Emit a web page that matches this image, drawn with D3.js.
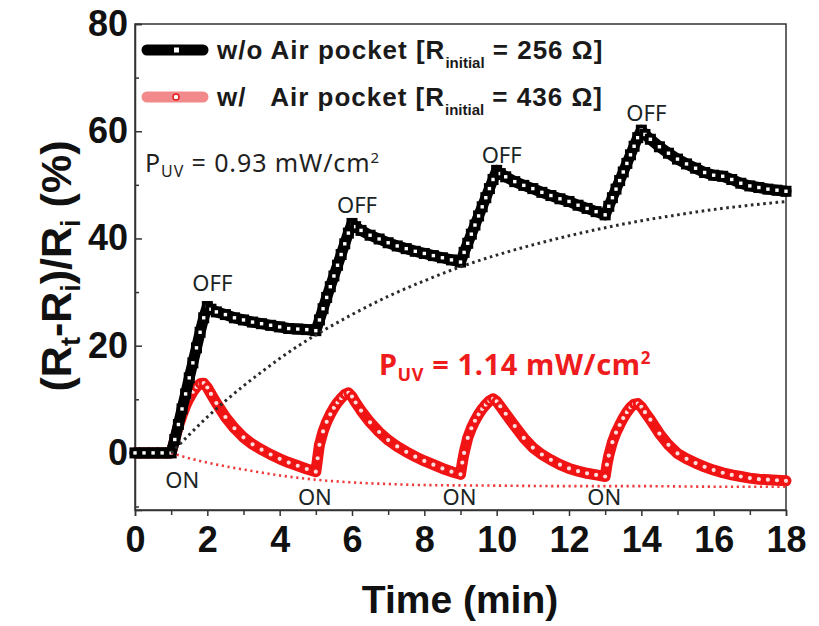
<!DOCTYPE html>
<html><head><meta charset="utf-8">
<script src="https://cdn.jsdelivr.net/npm/d3@7"></script>
<style>body{margin:0;background:#fff}svg{display:block}</style>
</head><body><svg id="c" width="819" height="626"></svg>
<script>
// ---- data ----
const timeBlack = [0,0.25,0.5,0.75,1,1.1,1.2,1.3,1.4,1.5,1.6,1.7,1.8,1.9,2.0,
 2.1,2.25,2.5,2.75,3,3.25,3.5,3.75,4,4.25,4.5,4.75,5,
 5.1,5.2,5.3,5.4,5.5,5.6,5.7,5.8,5.9,6.0,
 6.1,6.25,6.5,6.75,7,7.25,7.5,7.75,8,8.25,8.5,8.75,9,
 9.1,9.2,9.3,9.4,9.5,9.6,9.7,9.8,9.9,10,
 10.1,10.25,10.5,10.75,11,11.25,11.5,11.75,12,12.25,12.5,12.75,13,
 13.1,13.2,13.3,13.4,13.5,13.6,13.7,13.8,13.9,14,
 14.1,14.25,14.5,14.75,15,15.25,15.5,15.75,16,16.25,16.5,16.75,17,17.25,17.5,17.75,18];
const valueBlack = [0,0,0,0,0,2.5,5.3,8.2,11,14,16.8,19.6,22.5,25.2,27.3,
 26.8,26.3,25.8,25.2,24.8,24.4,24.1,23.8,23.5,23.2,23.1,23.0,22.8,
 24.8,26.9,29,31,33,35,37,39,41,42.8,
 42.2,41.5,40.6,39.9,39.2,38.6,38.1,37.6,37.2,36.8,36.4,36.0,35.6,
 37.4,39.1,40.8,42.5,44.2,45.9,47.6,49.3,51.0,52.7,
 52.1,51.5,50.6,49.9,49.3,48.6,48.0,47.4,46.9,46.2,45.6,45.0,44.4,
 46.0,47.6,49.2,50.8,52.4,54.0,55.6,57.2,58.8,60.2,
 59.4,58.5,57.1,55.9,54.8,53.9,53.1,52.3,51.8,51.6,51.0,50.3,49.8,49.5,49.2,49.0,48.8];

const timeRed = [0,0.25,0.5,0.75,1,1.1,1.2,1.3,1.4,1.5,1.6,1.7,1.8,1.9,
 2,2.1,2.25,2.5,2.75,3,3.25,3.5,3.75,4,4.25,4.5,4.75,5,
 5.05,5.1,5.2,5.3,5.4,5.5,5.6,5.7,5.8,5.9,
 6,6.1,6.25,6.5,6.75,7,7.25,7.5,7.75,8,8.25,8.5,8.75,9,
 9.05,9.1,9.2,9.3,9.4,9.5,9.6,9.7,9.8,9.9,
 10,10.1,10.25,10.5,10.75,11,11.25,11.5,11.75,12,12.25,12.5,12.75,13,
 13.05,13.1,13.2,13.3,13.4,13.5,13.6,13.7,13.8,13.9,
 14,14.1,14.25,14.5,14.75,15,15.25,15.5,15.75,16,16.25,16.5,16.75,17,17.25,17.5,17.75,18];
const valueRed = [0,0,0,0,0,2.5,5,7,8.8,10.2,11.4,12.3,12.9,13.0,
 12.2,11.0,9.3,6.7,4.6,2.9,1.6,0.6,-0.3,-1.1,-1.8,-2.4,-3.0,-3.5,
 -1,1.5,4.0,5.8,7.2,8.4,9.4,10.2,10.9,11.2,
 10.5,9.4,7.9,5.7,3.9,2.4,1.2,0.2,-0.7,-1.5,-2.2,-2.9,-3.5,-4.0,
 -1.8,0,2.8,4.6,6.0,7.2,8.2,9.0,9.7,10.1,
 9.6,8.7,7.3,5.0,2.8,1.0,-0.3,-1.3,-2.2,-2.9,-3.4,-3.8,-4.1,-4.4,
 -2.2,-0.5,2.0,3.8,5.2,6.5,7.6,8.5,9.1,9.2,
 8.6,7.6,6.2,3.6,1.5,-0.1,-1.1,-1.9,-2.6,-3.2,-3.7,-4.1,-4.4,-4.7,-4.9,-5.0,-5.1,-5.2];

const timeFitBlack = [1,1.5,2,2.5,3,3.5,4,4.5,5,6,7,8,9,10,11,12,13,14,15,16,17,18];
const valueFitBlack = [0,3.4,6.7,9.7,12.5,15.1,17.6,19.9,22.0,25.8,29.2,32.1,34.7,36.9,38.8,40.5,42.0,43.3,44.4,45.4,46.2,46.9];
const timeFitRed = [1,1.5,2,2.5,3,4,5,6,7,8,10,12,14,16,18];
const valueFitRed = [0,-1.0,-1.8,-2.5,-3.1,-4.2,-5.0,-5.5,-5.8,-6.0,-6.1,-6.2,-6.2,-6.3,-6.3];

const xTicks = [0,2,4,6,8,10,12,14,16,18];
const yTicks = [0,20,40,60,80];
const onTimes = [1,5,9,13];
const offTimes = [2,6,10,14];
const legendNames = ["w/o Air pocket [R", "w/   Air pocket [R"];
const legendValues = ["= 256 \u03A9]", "= 436 \u03A9]"];

// ---- drawing ----
const svg = d3.select("#c");
const L = 135, R = 786, T = 24, B = 510;
const x = d3.scaleLinear().domain([0,18]).range([L,R]);
const y = d3.scaleLinear().domain([-10.65,80]).range([B,T]);
const FONT = "Arial, 'Liberation Sans', sans-serif";

// frame
svg.append("rect").attr("x",L).attr("y",T).attr("width",R-L).attr("height",B-T)
  .attr("fill","none").attr("stroke","#333").attr("stroke-width",1.5);

// x axis
const xAxis = d3.axisBottom(x).tickValues(xTicks).tickSize(6).tickPadding(4).tickFormat(d3.format("d"));
const gx = svg.append("g").attr("transform",`translate(0,${B})`).call(xAxis);
gx.select(".domain").attr("stroke","#333").attr("stroke-width",1.5);
gx.selectAll(".tick line").attr("stroke","#333").attr("stroke-width",1.5);
gx.selectAll(".tick text").attr("font-family",FONT).attr("font-weight","bold")
  .attr("font-size",36).attr("fill","#111").attr("dy","0.9em");
const gxm = svg.append("g").attr("transform",`translate(0,${B})`)
  .call(d3.axisBottom(x).tickValues(d3.range(1,18,2)).tickSize(5).tickFormat(""));
gxm.select(".domain").remove();
gxm.selectAll(".tick line").attr("stroke","#333").attr("stroke-width",1.5);

// y axis (ticks inward)
const yAxis = d3.axisLeft(y).tickValues(yTicks).tickSize(-7).tickPadding(14).tickFormat(d3.format("d"));
const gy = svg.append("g").attr("transform",`translate(${L},0)`).call(yAxis);
gy.select(".domain").attr("stroke","#333").attr("stroke-width",1.5);
gy.selectAll(".tick line").attr("stroke","#333").attr("stroke-width",1.5);
gy.selectAll(".tick text").attr("font-family",FONT).attr("font-weight","bold")
  .attr("font-size",36).attr("fill","#111").attr("x",-7);
const gym = svg.append("g").attr("transform",`translate(${L},0)`)
  .call(d3.axisLeft(y).tickValues([-10,10,30,50,70]).tickSize(-4).tickFormat(""));
gym.select(".domain").remove();
gym.selectAll(".tick line").attr("stroke","#333").attr("stroke-width",1.5);

// axis titles
svg.append("text").attr("x",460).attr("y",613).attr("text-anchor","middle")
  .attr("font-family",FONT).attr("font-weight","bold").attr("font-size",39).attr("fill","#111")
  .text("Time (min)");
const yt = svg.append("text").attr("transform","translate(71,266) rotate(-90)").attr("text-anchor","middle")
  .attr("font-family",FONT).attr("font-weight","bold").attr("font-size",43).attr("fill","#111");
yt.append("tspan").text("(R");
yt.append("tspan").attr("font-size",27).attr("dy",9).text("t");
yt.append("tspan").attr("dy",-9).text("-R");
yt.append("tspan").attr("font-size",27).attr("dy",9).text("i");
yt.append("tspan").attr("dy",-9).text(")/R");
yt.append("tspan").attr("font-size",27).attr("dy",9).text("i");
yt.append("tspan").attr("dy",-9).text(" (%)");

// series helpers
const blackPts = timeBlack.map((t,i)=>[t,valueBlack[i]]);
const redPts = timeRed.map((t,i)=>[t,valueRed[i]]);
const fitB = timeFitBlack.map((t,i)=>[t,valueFitBlack[i]]);
const fitR = timeFitRed.map((t,i)=>[t,valueFitRed[i]]);
const line = d3.line().x(d=>x(d[0])).y(d=>y(d[1]));
const curve = d3.line().x(d=>x(d[0])).y(d=>y(d[1])).curve(d3.curveMonotoneX);

// red series
svg.append("path").attr("d",line(redPts)).attr("fill","none").attr("stroke","#f01414")
  .attr("stroke-width",11).attr("stroke-linejoin","round").attr("stroke-linecap","round");
svg.append("g").selectAll("circle").data(redPts).join("circle")
  .attr("cx",d=>x(d[0])).attr("cy",d=>y(d[1])).attr("r",3.6)
  .attr("fill","#ffdede").attr("stroke","#f01414").attr("stroke-width",3);

// black series
svg.append("path").attr("d",line(blackPts)).attr("fill","none").attr("stroke","#000")
  .attr("stroke-width",11).attr("stroke-linejoin","round").attr("stroke-linecap","round");
svg.append("g").selectAll("rect").data(blackPts).join("rect")
  .attr("x",d=>x(d[0])-3.6).attr("y",d=>y(d[1])-3.6).attr("width",7.2).attr("height",7.2)
  .attr("fill","#fff").attr("stroke","#000").attr("stroke-width",3.8);

// dotted trend lines
svg.append("path").attr("d",curve(fitR)).attr("fill","none").attr("stroke","#ee3b3b")
  .attr("stroke-width",2.6).attr("stroke-dasharray","2.2,3.6");
svg.append("path").attr("d",curve(fitB)).attr("fill","none").attr("stroke","#2a2a2a")
  .attr("stroke-width",3).attr("stroke-dasharray","2.6,3.6");

// ON / OFF labels
const LBL = "'Noto Sans', 'Open Sans', sans-serif";
const onY = [480,497,497,497];
svg.append("g").selectAll("text").data(onTimes).join("text")
  .attr("x",(d,i)=>x(d)+ (i===0?11:-1)).attr("y",(d,i)=>onY[i]+8).attr("text-anchor","middle")
  .attr("font-family",LBL).attr("font-size",22).attr("fill","#1a2424").text("ON");
const offY = [283,205,155,113];
svg.append("g").selectAll("text").data(offTimes).join("text")
  .attr("x",(d,i)=>x(d)+5).attr("y",(d,i)=>offY[i]+8).attr("text-anchor","middle")
  .attr("font-family",LBL).attr("font-size",22).attr("fill","#1a2424").text("OFF");

// P_UV annotations
const p1 = svg.append("text").attr("x",145).attr("y",172).attr("font-family",LBL)
  .attr("font-size",25).attr("letter-spacing",0.9).attr("fill","#1f1f1f");
p1.append("tspan").text("P");
p1.append("tspan").attr("font-size",16).attr("dy",5).text("UV");
p1.append("tspan").attr("dy",-5).text(" = 0.93 mW/cm");
p1.append("tspan").attr("font-size",15).attr("dy",-9).text("2");
const p2 = svg.append("text").attr("x",379).attr("y",375).attr("font-family",LBL)
  .attr("font-weight","bold").attr("font-size",29).attr("letter-spacing",0.6).attr("fill","#ee1c1c");
p2.append("tspan").text("P");
p2.append("tspan").attr("font-size",18).attr("dy",6).text("UV");
p2.append("tspan").attr("dy",-6).text(" = 1.14 mW/cm");
p2.append("tspan").attr("font-size",17).attr("dy",-11).text("2");

// legend
const legY = [50,97];
const legColor = ["#000","#f28a8c"];
legY.forEach((ly,i)=>{
  svg.append("line").attr("x1",147).attr("x2",203).attr("y1",ly).attr("y2",ly)
    .attr("stroke",legColor[i]).attr("stroke-width",11).attr("stroke-linecap","round");
  if(i===0){
    svg.append("rect").attr("x",174).attr("y",ly-2.5).attr("width",5).attr("height",5).attr("fill","#fff");
  } else {
    svg.append("circle").attr("cx",176).attr("cy",ly).attr("r",3).attr("fill","#fff")
      .attr("stroke","#e02020").attr("stroke-width",1.5);
  }
  const t = svg.append("text").attr("x",217).attr("y",ly+9).attr("font-family",FONT)
    .attr("font-weight","bold").attr("font-size",26).attr("letter-spacing",1.0).attr("fill","#1a1a1a");
  t.append("tspan").style("white-space","pre").text(legendNames[i]);
  t.append("tspan").attr("font-size",15).attr("letter-spacing",0).attr("dy",9).text("initial");
  t.append("tspan").attr("dy",-9).text(" " + legendValues[i]);
});
</script>
</body></html>
